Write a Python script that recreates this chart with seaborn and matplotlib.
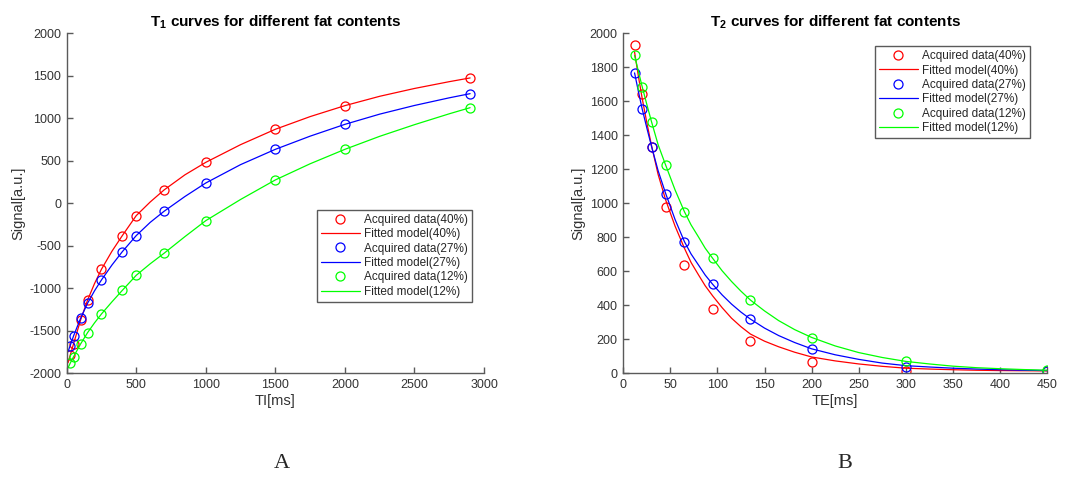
import numpy as np
import pandas as pd
import matplotlib
matplotlib.use("Agg")
import matplotlib.pyplot as plt
import seaborn as sns

# ---------------- data ----------------
fat_labels = ["40%", "27%", "12%"]
colors = ["#ff0000", "#0000ff", "#00ff00"]

# T1 (inversion recovery)
TI = [25, 50, 100, 150, 250, 400, 500, 700, 1000, 1500, 2000, 2900]
t1_acq_40 = [-1790, -1650, -1373, -1137, -776, -380, -145, 157, 482, 871, 1149, 1475]
t1_acq_27 = [-1675, -1558, -1353, -1176, -902, -569, -380, -94, 239, 635, 929, 1290]
t1_acq_12 = [-1882, -1804, -1655, -1522, -1302, -1024, -847, -588, -204, 275, 635, 1125]

TI_fit = [10, 25, 50, 100, 150, 200, 250, 325, 400, 500, 600, 700, 850, 1000, 1250, 1500,
          1750, 2000, 2250, 2500, 2750, 2900]
t1_fit_40 = [-1875, -1790, -1650, -1373, -1140, -945, -776, -565, -380, -145, 15, 157, 335, 482,
             690, 871, 1020, 1149, 1259, 1351, 1431, 1475]
t1_fit_27 = [-1745, -1675, -1558, -1353, -1176, -1030, -902, -727, -569, -380, -225, -94, 80, 239,
             455, 635, 790, 929, 1049, 1151, 1241, 1290]
t1_fit_12 = [-1935, -1882, -1804, -1655, -1522, -1407, -1302, -1160, -1024, -847, -712, -588, -392, -204,
             45, 275, 465, 635, 788, 925, 1053, 1125]

# T2 (spin echo decay)
TE = [12, 20, 30, 45, 65, 95, 135, 200, 300, 450]
t2_acq_40 = [1931, 1641, 1333, 980, 640, 378, 192, 65, 16, 16]
t2_acq_27 = [1767, 1557, 1333, 1055, 773, 524, 320, 145, 39, 16]
t2_acq_12 = [1873, 1686, 1480, 1225, 949, 676, 429, 210, 73, 20]

TE_fit = [12, 16, 20, 25, 30, 37, 45, 55, 65, 72, 80, 87, 95, 105, 115, 125, 135, 150, 165,
          182, 200, 225, 250, 275, 300, 325, 350, 375, 400, 425, 450]
t2_fit_40 = [1890, 1750, 1620, 1475, 1340, 1170, 1020, 866, 735, 652, 578, 515, 455, 386, 324,
             274, 231, 189, 156, 124, 96, 73, 55, 41, 30, 25, 21, 18, 16, 15, 14]
t2_fit_27 = [1767, 1660, 1557, 1444, 1335, 1192, 1058, 905, 774, 702, 636, 578, 523, 461, 407,
             360, 319, 266, 222, 181, 144, 109, 82, 60, 45, 37, 30, 25, 21, 18, 16]
t2_fit_12 = [1870, 1778, 1688, 1582, 1480, 1345, 1225, 1079, 950, 873, 801, 736, 676, 603, 540,
             483, 431, 367, 310, 257, 211, 161, 122, 93, 70, 55, 42, 33, 27, 22, 18]

# ---------------- style ----------------
sns.set_theme(style="ticks")
plt.rcParams['font.family'] = ['Liberation Sans', 'DejaVu Sans']
plt.rcParams['axes.unicode_minus'] = False
plt.rcParams['mathtext.fontset'] = 'custom'
plt.rcParams['mathtext.rm'] = 'Liberation Sans'
plt.rcParams['mathtext.bf'] = 'Liberation Sans:bold'

fig = plt.figure(figsize=(10.72, 4.8), dpi=100)
ax1 = fig.add_axes([0.0622, 0.2223, 0.3893, 0.7083])
ax2 = fig.add_axes([0.5814, 0.2223, 0.3953, 0.7083])

axis_col = "#5a5a5a"
text_col = "#333333"


def draw(ax, x_acq, acq_list, x_fit, fit_list):
    for pct, col, acq, fit in zip(fat_labels, colors, acq_list, fit_list):
        df_a = pd.DataFrame({"x": x_acq, "y": acq})
        df_f = pd.DataFrame({"x": x_fit, "y": fit})
        sns.lineplot(data=df_a, x="x", y="y", ax=ax, color=col, marker="o",
                     linestyle="none", markersize=6.5, markerfacecolor="none",
                     markeredgecolor=col, markeredgewidth=0.9,
                     estimator=None, sort=False, label=f"Acquired data({pct})")
        sns.lineplot(data=df_f, x="x", y="y", ax=ax, color=col, linewidth=0.9,
                     estimator=None, sort=False, label=f"Fitted model({pct})")


draw(ax1, TI, [t1_acq_40, t1_acq_27, t1_acq_12], TI_fit, [t1_fit_40, t1_fit_27, t1_fit_12])
draw(ax2, TE, [t2_acq_40, t2_acq_27, t2_acq_12], TE_fit, [t2_fit_40, t2_fit_27, t2_fit_12])

ax1.set_xlim(0, 3000)
ax1.set_ylim(-2000, 2000)
ax1.set_xticks(np.arange(0, 3001, 500))
ax1.set_yticks(np.arange(-2000, 2001, 500))

ax2.set_xlim(0, 450)
ax2.set_ylim(0, 2000)
ax2.set_xticks(np.arange(0, 451, 50))
ax2.set_yticks(np.arange(0, 2001, 200))

for ax, xl, title, anchor in [
    (ax1, "TI[ms]", r"T$_\mathbf{1}$ curves for different fat contents", (0.599, 0.481)),
    (ax2, "TE[ms]", r"T$_\mathbf{2}$ curves for different fat contents", (0.593, 0.9625)),
]:
    sns.despine(ax=ax)
    for s in ("left", "bottom"):
        ax.spines[s].set_color(axis_col)
        ax.spines[s].set_linewidth(1.0)
    ax.tick_params(direction="in", length=4, width=1, color=axis_col,
                   labelcolor=text_col, labelsize=9, pad=4)
    ax.set_xlabel(xl, fontsize=10.5, color=text_col, labelpad=2)
    ax.set_ylabel("Signal[a.u.]", fontsize=10.5, color=text_col, labelpad=3)
    ax.set_title(title, fontsize=11, fontweight="bold", color="black", pad=5)
    leg = ax.legend(loc="upper left", bbox_to_anchor=anchor, borderaxespad=0,
                    fontsize=8.5, handlelength=3.3, handletextpad=0.35,
                    labelspacing=0.2, borderpad=0.35, frameon=True, fancybox=False,
                    edgecolor=axis_col, framealpha=1)
    leg.get_frame().set_linewidth(1.0)

fig.text(282 / 1072, 1 - 463 / 480, "A", ha="center", va="center", fontsize=16,
         family="Liberation Serif")
fig.text(845 / 1072, 1 - 463 / 480, "B", ha="center", va="center", fontsize=16,
         family="Liberation Serif")

fig.savefig("out.png", dpi=100)
